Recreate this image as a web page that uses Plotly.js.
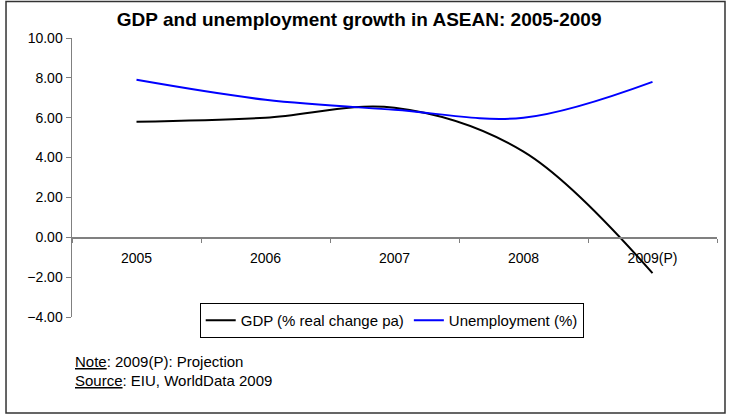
<!DOCTYPE html>
<html>
<head>
<meta charset="utf-8">
<script src="https://cdn.plot.ly/plotly-3.0.1.min.js"></script>
<style>html,body{margin:0;padding:0;background:#fff;}#chart{width:730px;height:415px;}</style>
</head>
<body>
<div id="chart"></div>
<script>
const years = ["2005", "2006", "2007", "2008", "2009(P)"];
const gdp = [5.8, 6.0, 6.5, 4.3, -1.8];
const unemployment = [7.9, 6.9, 6.4, 6.0, 7.8];
const seriesNames = ["GDP (% real change pa)", "Unemployment (%)"];
const titleText = "GDP and unemployment growth in ASEAN: 2005-2009";
const noteText = "<u>Note</u>: 2009(P): Projection";
const sourceText = "<u>Source</u>: EIU, WorldData 2009";

const font = "Liberation Sans, Arial, sans-serif";

const traces = [
  {x: years, y: gdp, name: seriesNames[0], type: "scatter", mode: "lines",
   line: {color: "#000000", width: 2, shape: "spline", smoothing: 1}},
  {x: years, y: unemployment, name: seriesNames[1], type: "scatter", mode: "lines",
   line: {color: "#0000ff", width: 2, shape: "spline", smoothing: 1}}
];

const layout = {
  width: 730, height: 415,
  margin: {l: 72, r: 13, t: 38, b: 98},
  paper_bgcolor: "#ffffff", plot_bgcolor: "#ffffff",
  font: {family: font, color: "#000000", size: 14},
  title: {text: "<b>" + titleText + "</b>", x: 0.492, xref: "container", xanchor: "center",
          y: 0.954, yref: "container", yanchor: "middle", font: {size: 19, family: font, color: "#000"}},
  xaxis: {type: "category", range: [-0.5, 4.5], anchor: "free", position: 4/14,
          showline: true, linecolor: "#808080", linewidth: 1.5,
          ticks: "outside", tickson: "boundaries", ticklen: 4, tickcolor: "#808080",
          showgrid: false, zeroline: false, ticklabelstandoff: 7,
          tickfont: {size: 14, family: font, color: "#000"}, fixedrange: true},
  yaxis: {range: [-4, 10], dtick: 2, tick0: 0, tickformat: ".2f",
          showline: true, linecolor: "#808080", linewidth: 1.5,
          ticks: "outside", ticklen: 5, tickcolor: "#808080",
          showgrid: false, zeroline: false,
          tickfont: {size: 14, family: font, color: "#000"}, fixedrange: true},
  showlegend: true,
  legend: {orientation: "h", x: 0.198, xanchor: "left", y: 0.05, yanchor: "top",
           bgcolor: "#ffffff", bordercolor: "#000000", borderwidth: 1,
           font: {size: 15, family: font, color: "#000"}, itemwidth: 30, tracegroupgap: 0},
  annotations: [
    {text: noteText, xref: "paper", yref: "paper", x: 0.0016, y: -0.161, xanchor: "left", yanchor: "middle",
     showarrow: false, font: {size: 15, family: font, color: "#000"}},
    {text: sourceText, xref: "paper", yref: "paper", x: 0.0016, y: -0.229, xanchor: "left", yanchor: "middle",
     showarrow: false, font: {size: 15, family: font, color: "#000"}}
  ],
  shapes: [
    {type: "rect", xref: "paper", yref: "paper", x0: -0.1023, x1: 1.0124, y0: -0.344, y1: 1.1308,
     line: {color: "#333333", width: 1.5}, fillcolor: "rgba(0,0,0,0)", layer: "below"}
  ]
};

Plotly.newPlot("chart", traces, layout, {displayModeBar: false, staticPlot: true});
</script>
</body>
</html>
